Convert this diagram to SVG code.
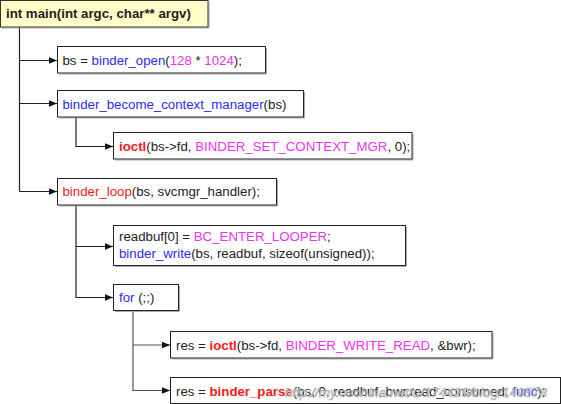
<svg xmlns="http://www.w3.org/2000/svg" width="561" height="404" viewBox="0 0 561 404">
<style>
text{font-family:"Liberation Sans",Arial,sans-serif;font-size:13.25px;fill:#222}
.b{fill:#2a2af0}.m{fill:#f030f0}.r{fill:#f02020}.rb{fill:#f02020;font-weight:bold}
.box{fill:#fff;stroke:#222;stroke-width:1}
.sh{fill:none;stroke:#aaa;stroke-width:1}
.ln{fill:none;stroke:#222;stroke-width:1.2}
.lg{fill:none;stroke:#555;stroke-width:1.2}
.wm{font-style:italic;font-size:13.5px;fill:#fff;stroke:#999;stroke-width:0.6;opacity:0.9}
</style>
<defs>
<marker id="ah" viewBox="0 0 8 8" refX="8" refY="4" markerWidth="8" markerHeight="8" markerUnits="userSpaceOnUse" orient="auto"><path d="M0,0.8 L8,4 L0,7.2 z" fill="#111"/></marker>
</defs>
<g id="connectors">
<path class="ln" d="M19.5,27 V191.5"/>
<path class="ln" d="M19.5,60.5 H57" marker-end="url(#ah)"/>
<path class="ln" d="M19.5,103.5 H57" marker-end="url(#ah)"/>
<path class="ln" d="M19.5,191.5 H57" marker-end="url(#ah)"/>
<path class="ln" d="M76,117 V146.5 H113" marker-end="url(#ah)"/>
<path class="ln" d="M76,205 V297.5 H113" marker-end="url(#ah)"/>
<path class="ln" d="M76,246.5 H113" marker-end="url(#ah)"/>
<path class="lg" d="M133,311 V390.5 H170" marker-end="url(#ah)"/>
<path class="lg" d="M133,345 H170" marker-end="url(#ah)"/>
</g>
<g id="main">
<path class="sh" d="M209,1.5 V28 H1.5"/>
<rect x="0.5" y="0.5" width="207.5" height="26.5" fill="#ffffc8" stroke="#333"/>
<text x="6" y="18" font-weight="bold">int main(int argc, char** argv)</text>
</g>
<g id="open">
<path class="sh" d="M266.5,48 V74 H59"/>
<rect class="box" x="57.5" y="46.5" width="208" height="26.5"/>
<text x="62.5" y="65"><tspan>bs = </tspan><tspan class="b">binder_open</tspan>(<tspan class="m">128</tspan> * <tspan class="m">1024</tspan>);</text>
</g>
<g id="ctxmgr">
<path class="sh" d="M304.5,92 V118 H59"/>
<rect class="box" x="57.5" y="90.5" width="246" height="26.5"/>
<text x="62.5" y="108.5"><tspan class="b">binder_become_context_manager</tspan>(bs)</text>
</g>
<g id="ioctl1">
<path class="sh" d="M413,134 V160 H115"/>
<rect class="box" x="113.5" y="132.5" width="298.5" height="26.5"/>
<text x="119" y="151"><tspan class="rb">ioctl</tspan>(bs-&gt;fd, <tspan class="m">BINDER_SET_CONTEXT_MGR</tspan>, 0);</text>
</g>
<g id="loop">
<path class="sh" d="M277.5,180 V206 H59"/>
<rect class="box" x="57.5" y="178.5" width="219" height="26.5"/>
<text x="62.5" y="196"><tspan class="r">binder_loop</tspan>(bs, svcmgr_handler);</text>
</g>
<g id="write">
<path class="sh" d="M406.5,227 V266.5 H115"/>
<rect class="box" x="113.5" y="225.5" width="292" height="40"/>
<text x="119" y="241">readbuf[0] = <tspan class="m">BC_ENTER_LOOPER</tspan>;</text>
<text x="119" y="257.5"><tspan class="b">binder_write</tspan>(bs, readbuf, sizeof(unsigned));</text>
</g>
<g id="for">
<path class="sh" d="M179.5,286 V311.5 H115"/>
<rect class="box" x="113.5" y="284.5" width="65" height="26"/>
<text x="119" y="302"><tspan class="b">for</tspan> (;;)</text>
</g>
<g id="ioctl2">
<path class="sh" d="M493,333 V359 H172"/>
<rect class="box" x="170.5" y="331.5" width="321.5" height="26.5" stroke="#333"/>
<text x="176" y="349.5">res = <tspan class="rb">ioctl</tspan>(bs-&gt;fd, <tspan class="m">BINDER_WRITE_READ</tspan>, &amp;bwr);</text>
</g>
<g id="parse">
<rect class="box" x="170.5" y="377.5" width="390" height="26" stroke="#333"/>
<text x="176" y="395.5">res = <tspan class="rb">binder_parse</tspan>(bs, 0, readbuf, bwr.read_consumed, <tspan class="b">func</tspan>);</text>
</g>
<text class="wm" x="285" y="397" textLength="262">http://my.oschina.net/u/174429/blog/149578</text>
</svg>
